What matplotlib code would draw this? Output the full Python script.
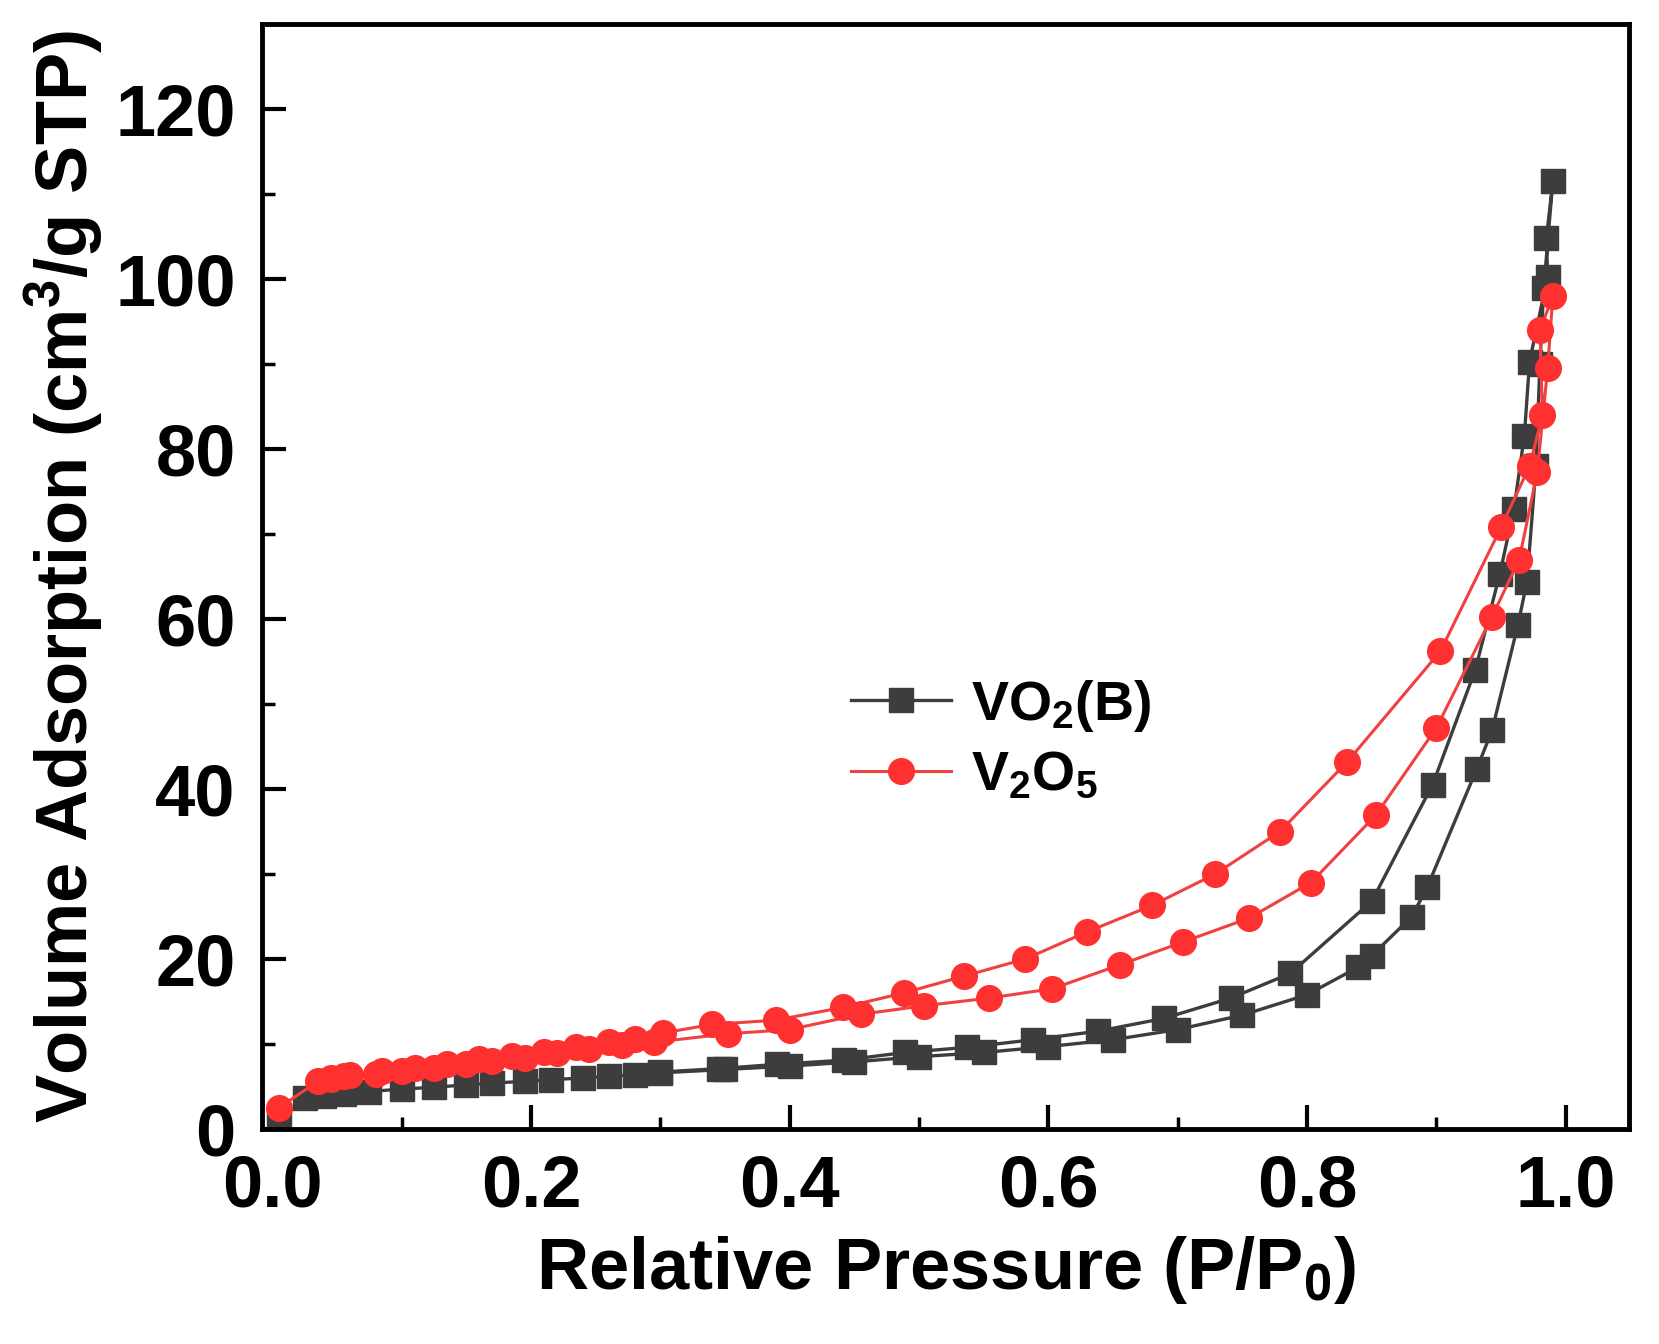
import matplotlib
matplotlib.use("Agg")
import matplotlib.pyplot as plt
from matplotlib.ticker import MultipleLocator

plt.rcParams['font.family'] = ['Liberation Sans', 'DejaVu Sans']
plt.rcParams['mathtext.default'] = 'regular'

# VO2(B): adsorption branch then desorption branch
vo2_ads_x = [0.005, 0.025, 0.04, 0.055, 0.075, 0.10, 0.125, 0.15, 0.17, 0.195, 0.215, 0.24, 0.26, 0.28, 0.30,
             0.35, 0.40, 0.45, 0.50, 0.55, 0.60, 0.65, 0.70, 0.75, 0.80, 0.839, 0.850, 0.881, 0.893,
             0.931, 0.943, 0.963, 0.970, 0.977, 0.980, 0.983, 0.990]
vo2_ads_y = [1.0, 3.6, 3.9, 4.1, 4.4, 4.7, 4.9, 5.2, 5.4, 5.6, 5.8, 6.0, 6.2, 6.4, 6.6,
             7.0, 7.4, 7.9, 8.5, 9.0, 9.7, 10.5, 11.7, 13.4, 15.8, 19.0, 20.4, 25.0, 28.5,
             42.3, 46.9, 59.3, 64.4, 78.0, 90.0, 99.0, 111.5]
vo2_des_x = [0.985, 0.986, 0.972, 0.968, 0.960, 0.949, 0.930, 0.897, 0.850, 0.787, 0.741, 0.689,
             0.638, 0.588, 0.537, 0.489, 0.442, 0.390, 0.345, 0.30]
vo2_des_y = [104.8, 100.3, 90.3, 81.6, 73.0, 65.3, 54.0, 40.5, 26.8, 18.3, 15.4, 13.0,
             11.5, 10.5, 9.6, 9.0, 8.1, 7.6, 7.1, 6.7]

# V2O5: adsorption branch then desorption branch
v2o5_ads_x = [0.005, 0.035, 0.045, 0.055, 0.08, 0.10, 0.125, 0.15, 0.17, 0.195, 0.22, 0.245, 0.27, 0.295,
              0.352, 0.40, 0.455, 0.504, 0.554, 0.603, 0.655, 0.704, 0.755, 0.803, 0.853, 0.90,
              0.943, 0.964, 0.978, 0.986, 0.990]
v2o5_ads_y = [2.5, 5.6, 6.0, 6.2, 6.5, 6.8, 7.2, 7.7, 8.0, 8.4, 8.9, 9.4, 9.9, 10.2,
              11.2, 11.7, 13.5, 14.5, 15.4, 16.5, 19.3, 22.0, 24.8, 29.0, 36.9, 47.2,
              60.3, 67.0, 77.3, 89.5, 98.0]
v2o5_des_x = [0.980, 0.982, 0.972, 0.950, 0.903, 0.831, 0.779, 0.729, 0.680, 0.630, 0.582, 0.535,
              0.488, 0.441, 0.389, 0.340, 0.302, 0.28, 0.26, 0.235, 0.21, 0.185, 0.16, 0.135,
              0.11, 0.085, 0.06, 0.045]
v2o5_des_y = [94.0, 84.0, 78.0, 70.8, 56.2, 43.2, 35.0, 30.0, 26.3, 23.2, 20.0, 18.0,
              16.0, 14.3, 12.8, 12.3, 11.3, 10.6, 10.2, 9.7, 9.1, 8.6, 8.2, 7.7,
              7.2, 6.8, 6.3, 5.9]

labels = ['VO$_2$(B)', 'V$_2$O$_5$']
xticks = [0.0, 0.2, 0.4, 0.6, 0.8, 1.0]
yticks = [0, 20, 40, 60, 80, 100, 120]

fig = plt.figure(figsize=(16.59, 13.44), dpi=100)
ax = fig.add_axes([0.158, 0.160, 0.824, 0.822])

ax.plot(vo2_ads_x + vo2_des_x, vo2_ads_y + vo2_des_y, '-s', color='#3d3d3d', lw=2.4,
        ms=17, mfc='#3d3d3d', mec='#3d3d3d', label=labels[0])
ax.plot(v2o5_ads_x + v2o5_des_x, v2o5_ads_y + v2o5_des_y, '-o', color='#f04040', lw=2.2,
        ms=18.5, mfc='#ff3030', mec='#ff3030', label=labels[1])

ax.set_xlim(-0.008, 1.049)
ax.set_ylim(0, 130)
ax.set_xticks(xticks)
ax.set_yticks(yticks)
ax.set_xticklabels([f'{t:.1f}' for t in xticks])
ax.set_yticklabels([str(t) for t in yticks])
ax.xaxis.set_minor_locator(MultipleLocator(0.1))
ax.yaxis.set_minor_locator(MultipleLocator(10))

for s in ax.spines.values():
    s.set_linewidth(3.5)

ax.tick_params(which='both', direction='in', top=False, right=False)
ax.tick_params(which='major', length=17, width=3)
ax.tick_params(which='minor', length=9, width=2.5)
ax.tick_params(axis='x', which='major', pad=18)
ax.tick_params(axis='y', which='major', pad=19)
for lab in ax.get_xticklabels() + ax.get_yticklabels():
    lab.set_fontsize(52)
    lab.set_fontweight('bold')

ax.set_xlabel('Relative Pressure (P/P$_0$)', fontsize=52, fontweight='bold', labelpad=9)
ax.set_ylabel('Volume Adsorption (cm$^3$/g STP)', fontsize=52, fontweight='bold', labelpad=7)

leg = ax.legend(loc='center left', bbox_to_anchor=(0.431, 0.352), frameon=False,
                borderaxespad=0, borderpad=0,
                prop={'size': 40, 'weight': 'bold'}, handlelength=1.8,
                handletextpad=0.35, labelspacing=0.3)

fig.savefig('out.png', dpi=100)
